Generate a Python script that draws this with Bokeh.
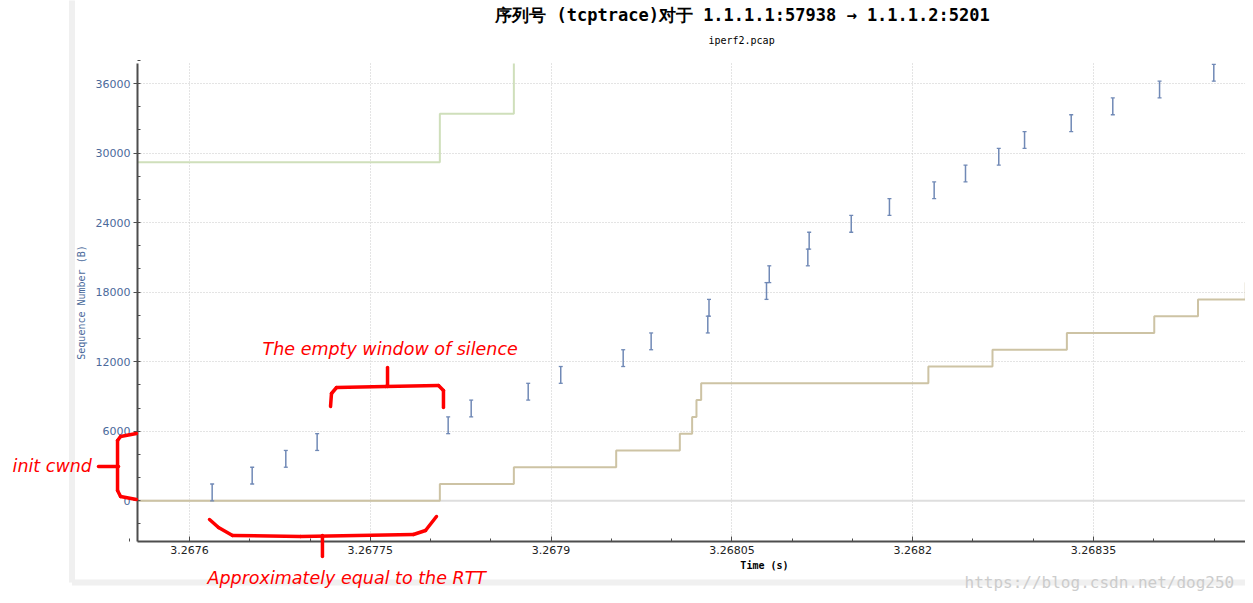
from bokeh.plotting import figure
from bokeh.models import (ColumnDataSource, FixedTicker, CustomJSTickFormatter,
                          Label, Arrow, Grid)
from bokeh.embed import file_html
from bokeh.resources import INLINE
import numpy as np

# ---------------- data ----------------
# transmitted segments: time (s), first byte, last byte
seg_time = [3.2676188, 3.2676520, 3.2676799, 3.2677059, 3.2678146, 3.2678337,
            3.2678810, 3.2679080, 3.2679598, 3.2679830, 3.2680300, 3.2680310,
            3.2680787, 3.2680810, 3.2681130, 3.2681141, 3.2681490, 3.2681807,
            3.2682178, 3.2682438, 3.2682714, 3.2682928, 3.2683315, 3.2683660,
            3.2684048, 3.2684498]
seg_start = [0, 1448, 2896, 4344, 5792, 7240, 8688, 10136, 11584, 13032, 14480,
             15928, 17376, 18824, 20272, 21720, 23168, 24616, 26064, 27512,
             28960, 30408, 31856, 33304, 34752, 36200]
seg_end = [1448, 2896, 4344, 5792, 7240, 8688, 10136, 11584, 13032, 14480,
           15928, 17376, 18824, 20272, 21720, 23168, 24616, 26064, 27512,
           28960, 30408, 31856, 33304, 34752, 36200, 37648]

# plot area (data extent of the axes)
PLOT_X = (3.2675569, 3.2684761)
PLOT_Y = (-3511, 37726)

# ACK line (step)
ack_time = [3.2675569, 3.2678077, 3.2678691, 3.2679540, 3.2680068, 3.2680170,
            3.2680206, 3.2680245, 3.2682130, 3.2682662, 3.2683279, 3.2684004,
            3.2684367, 3.2684763, 3.2684800]
ack_seq = [0, 1448, 2896, 4344, 5792, 7240, 8688, 10136, 11584, 13032, 14480,
           15928, 17376, 18824, 18824]

# receive-window line (step); last point leaves through the top of the plot
win_time = [3.2675569, 3.2678077, 3.2678691]
win_seq = [29200, 33400, PLOT_Y[1]]

# axis ticks
x_ticks = [3.2676, 3.26775, 3.2679, 3.26805, 3.2682, 3.26835]
x_tick_labels = ["3.2676", "3.26775", "3.2679", "3.26805", "3.2682", "3.26835"]
y_ticks = [0, 6000, 12000, 18000, 24000, 30000, 36000]

# whole canvas in data units (axes are placed at fixed locations inside it)
X_RANGE = (3.2674432, 3.2684761)
Y_RANGE = (-8170, 43161)

# ---------------- figure ----------------
p = figure(width=1245, height=595, output_backend="svg", toolbar_location=None,
           title=None, x_range=X_RANGE, y_range=Y_RANGE, min_border=0,
           min_border_left=0, min_border_right=0, min_border_top=0,
           min_border_bottom=0)
p.outline_line_color = None
p.background_fill_color = "white"
p.border_fill_color = "white"

# axes
p.xaxis.fixed_location = PLOT_Y[0]
p.yaxis.fixed_location = PLOT_X[0]
p.xaxis.bounds = PLOT_X
p.yaxis.bounds = PLOT_Y
p.xaxis.ticker = FixedTicker(ticks=x_ticks,
                             minor_ticks=list(np.round(np.arange(3.26755, 3.26850, 0.00005), 6)))
p.xaxis.formatter = CustomJSTickFormatter(args=dict(t=x_ticks, l=x_tick_labels), code="""
for (let i = 0; i < t.length; i++) { if (Math.abs(t[i] - tick) < 1e-9) return l[i]; }
return tick.toFixed(5);
""")
p.yaxis.ticker = FixedTicker(ticks=y_ticks, minor_ticks=list(range(-2000, 38001, 2000)))

for ax in (p.xaxis, p.yaxis):
    ax.axis_line_color = "#4d4d4d"
    ax.axis_line_width = 2
    ax.major_tick_line_color = "#4d4d4d"
    ax.minor_tick_line_color = "#4d4d4d"
    ax.major_label_text_font = "DejaVu Sans"
    ax.major_label_text_font_size = "11px"

p.xaxis.major_tick_in = 5
p.xaxis.major_tick_out = 0
p.xaxis.minor_tick_in = 3
p.xaxis.minor_tick_out = 0
p.xaxis.major_label_standoff = 5
p.xaxis.major_label_text_color = "#222222"

p.yaxis.major_tick_in = 0
p.yaxis.major_tick_out = 4
p.yaxis.minor_tick_in = 3
p.yaxis.minor_tick_out = 0
p.yaxis.major_label_standoff = 3
p.yaxis.major_label_text_color = "#4b6a9b"
p.yaxis.axis_label = "Sequence Number (B)"
p.yaxis.axis_label_text_font = "DejaVu Sans Mono"
p.yaxis.axis_label_text_font_size = "10px"
p.yaxis.axis_label_text_font_style = "normal"
p.yaxis.axis_label_text_color = "#4b6a9b"
p.yaxis.axis_label_standoff = 6

# grid lines limited to the plot area
grid_ok = "cross_bounds" in Grid.properties()
for g, cb in ((p.xgrid, PLOT_Y), (p.ygrid, PLOT_X)):
    g.grid_line_color = "#c8c8c8"
    g.grid_line_dash = "1 2"
    g.grid_line_width = 1
    if grid_ok:
        g.cross_bounds = cb
    else:
        g.visible = False
if not grid_ok:
    p.segment(x0=x_ticks, y0=[PLOT_Y[0]] * len(x_ticks), x1=x_ticks,
              y1=[PLOT_Y[1]] * len(x_ticks), line_color="#c8c8c8", line_dash="1 2",
              level="underlay")
    p.segment(x0=[PLOT_X[0]] * len(y_ticks), y0=y_ticks, x1=[PLOT_X[1]] * len(y_ticks),
              y1=y_ticks, line_color="#c8c8c8", line_dash="1 2", level="underlay")

# baseline at zero
p.line([ack_time[0], ack_time[-1]], [0, 0], line_color="#dedede", line_width=2)

# window and ack lines
p.step(win_time, win_seq, mode="after", line_color="#cfdfbb", line_width=2)
p.step(ack_time, ack_seq, mode="after", line_color="#cdc3a4", line_width=2)

# segments ("I" bars)
src = ColumnDataSource(dict(t=seg_time, s=seg_start, e=seg_end))
bar_col = "#7089b6"
p.segment(x0="t", y0="s", x1="t", y1="e", source=src, line_color=bar_col, line_width=1.5)
p.scatter(x="t", y="s", source=src, marker="dash", size=4, line_color=bar_col, line_width=1.3)
p.scatter(x="t", y="e", source=src, marker="dash", size=4, line_color=bar_col, line_width=1.3)

# ---------------- annotation geometry (microsecond offsets from T0) ----------------
T0 = 3.2676
def us(v):
    return T0 + v * 1e-6

# window frame edges of the screenshot
frame_src = ColumnDataSource(dict(x0=[us(-97.5), us(-97.5)], y0=[45000, -7048],
                                  x1=[us(-97.5), us(1000)], y1=[-7048, -7048]))
p.add_layout(Arrow(start=None, end=None, source=frame_src, x_start="x0", y_start="y0",
                   x_end="x1", y_end="y1", line_color="#f0f0f0", line_width=6,
                   level="underlay"))

# hand-drawn red braces
strokes = [
    ([117.0, 117.8, 122.0, 162.6, 206.6, 210.7, 210.7],
     [8135, 9257, 9774, 9861, 9947, 9516, 8049]),
    ([164.3, 164.3], [9861, 11500]),
    ([16.6, 24.1, 35.7, 92.1, 185.8, 195.8, 204.9],
     [-1613, -2304, -2994, -3080, -2908, -2562, -1354]),
    ([110.3, 110.3], [-2994, -4805]),
    ([-44.0, -57.2, -59.7, -59.7, -57.2, -44.0],
     [5806, 5547, 5202, 889, 371, 112]),
    ([-75.5, -58.9], [2959, 2959]),
]
x0s, y0s, x1s, y1s = [], [], [], []
for xs, ys in strokes:
    for i in range(len(xs) - 1):
        x0s.append(us(xs[i])); y0s.append(ys[i])
        x1s.append(us(xs[i + 1])); y1s.append(ys[i + 1])
red_src = ColumnDataSource(dict(x0=x0s, y0=y0s, x1=x1s, y1=y1s))
p.add_layout(Arrow(start=None, end=None, source=red_src, x_start="x0", y_start="y0",
                   x_end="x1", y_end="y1", line_color="#ff0000", line_width=3.5,
                   line_cap="round", line_join="round"))

def red_text(txt, x, y):
    p.add_layout(Label(x=us(x), y=y, text=txt, text_color="#ff0000",
                       text_font="DejaVu Sans", text_font_style="italic",
                       text_font_size="17.5px", text_align="left",
                       text_baseline="middle"))

red_text("The empty window of silence", 60.6, 13053)
red_text("init cwnd", -146.8, 3045)
red_text("Approximately equal to the RTT", 14.9, -6703)

# ---------------- titles and labels ----------------
p.add_layout(Label(x=us(458.8), y=41867, text="序列号 (tcptrace)对于 1.1.1.1:57938 → 1.1.1.2:5201",
                   text_font="DejaVu Sans Mono", text_font_style="bold",
                   text_font_size="17px", text_align="center", text_baseline="middle",
                   text_color="#000000"))
p.add_layout(Label(x=us(458.0), y=39710, text="iperf2.pcap",
                   text_font="DejaVu Sans Mono", text_font_size="10px",
                   text_align="center", text_baseline="middle", text_color="#000000"))
p.add_layout(Label(x=us(477.0), y=-5582, text="Time (s)",
                   text_font="DejaVu Sans Mono", text_font_style="bold",
                   text_font_size="10px", text_align="center", text_baseline="middle",
                   text_color="#000000"))
p.add_layout(Label(x=us(643.0), y=-7048, text="https://blog.csdn.net/dog250",
                   text_font="DejaVu Sans Mono", text_font_size="16px",
                   text_align="left", text_baseline="middle", text_color="#cccccc"))

open("out.html", "w").write(file_html(p, INLINE))
